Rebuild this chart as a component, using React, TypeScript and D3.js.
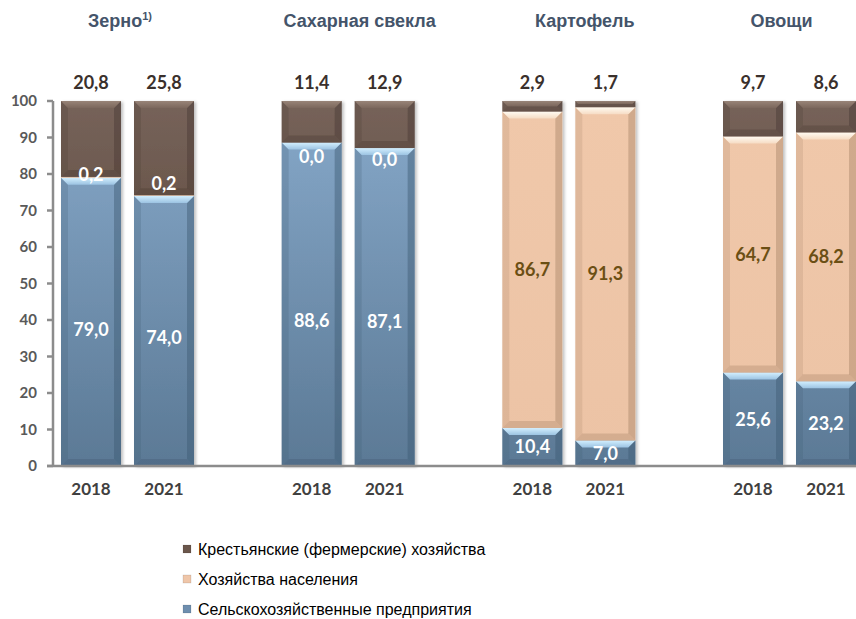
import React from "react";
import * as d3 from "d3";

const categories = ["Зерно", "Сахарная свекла", "Картофель", "Овощи"];
const years = ["2018", "2021"];
// Крестьянские (фермерские) хозяйства
const farms = [20.8, 25.8, 11.4, 12.9, 2.9, 1.7, 9.7, 8.6];
// Хозяйства населения
const households = [0.2, 0.2, 0.0, 0.0, 86.7, 91.3, 64.7, 68.2];
// Сельскохозяйственные предприятия
const enterprises = [79.0, 74.0, 88.6, 87.1, 10.4, 7.0, 25.6, 23.2];
const yTicks = [0, 10, 20, 30, 40, 50, 60, 70, 80, 90, 100];
const legendLabels = [
  "Крестьянские (фермерские) хозяйства",
  "Хозяйства населения",
  "Сельскохозяйственные предприятия",
];

// presentation nudges for labels (px)
const entLabelDy = [8, 7, 16, 15, 0, 0, 0, 0];
const hhLabelDy = [-3, -12, 14, 12, 0, 0, 0, 0];
const titleDx = [-7.5, 11.5, 16, -8];

const W = 856;
const H = 619;

const keys = ["ent", "hh", "farm"] as const;

const rows = categories.flatMap((c, ci) =>
  years.map((yr, yi) => {
    const i = ci * 2 + yi;
    return { cat: c, year: yr, i, ent: enterprises[i], hh: households[i], farm: farms[i] };
  })
);

const segStyle: Record<string, { grad: string; top: string; side: string }> = {
  ent: { grad: "url(#gBlue)", top: "url(#tBlue)", side: "#3e5a74" },
  hh: { grad: "url(#gPeach)", top: "url(#tPeach)", side: "#a98468" },
  farm: { grad: "url(#gBrown)", top: "url(#tBrown)", side: "#4a3a32" },
};

export default function App() {
  const y = d3.scaleLinear().domain([0, 100]).range([466, 101]);
  const xg = d3.scalePoint<string>().domain(categories).range([127.5, 789.5]);
  const xs = d3.scaleBand<string>().domain(years).range([-66.5, 66.5]).paddingInner(13 / 73).paddingOuter(0);
  const bw = xs.bandwidth();
  const stack = d3.stack<any>().keys(keys as any);
  const series = stack(rows);

  const labelFont = "Lato, 'Open Sans', sans-serif";

  const bevel = (key: string, x: number, y0: number, y1: number, id: string) => {
    const h = y1 - y0;
    if (h <= 0.5) return null;
    const st = segStyle[key];
    const b = Math.min(7, h / 2);
    const w = bw;
    return (
      <g key={id}>
        <rect x={x} y={y0} width={w} height={h} fill={st.grad} />
        <polygon
          points={`${x},${y1} ${x + b},${y1 - b} ${x + w - b},${y1 - b} ${x + w},${y1}`}
          fill={st.side}
          opacity={0.35}
        />
        <polygon
          points={`${x},${y0} ${x + b},${y0 + b} ${x + b},${y1 - b} ${x},${y1}`}
          fill={st.side}
          opacity={0.22}
        />
        <polygon
          points={`${x + w},${y0} ${x + w - b},${y0 + b} ${x + w - b},${y1 - b} ${x + w},${y1}`}
          fill={st.side}
          opacity={0.45}
        />
        <polygon
          points={`${x},${y0} ${x + w},${y0} ${x + w - b},${y0 + b} ${x + b},${y0 + b}`}
          fill={st.top}
        />
      </g>
    );
  };

  return (
    <svg
      width={W}
      height={H}
      style={{ position: "absolute", left: 0, top: 0, background: "#fff" }}
      xmlns="http://www.w3.org/2000/svg"
    >
      <defs>
        <linearGradient id="gBlue" gradientUnits="userSpaceOnUse" x1="0" y1={y(100)} x2="0" y2={y(0)}>
          <stop offset="0" stopColor="#87a9ca" />
          <stop offset="1" stopColor="#5b7995" />
        </linearGradient>
        <linearGradient id="gPeach" gradientUnits="userSpaceOnUse" x1="0" y1={y(100)} x2="0" y2={y(0)}>
          <stop offset="0" stopColor="#f0c8aa" />
          <stop offset="1" stopColor="#ecc3a5" />
        </linearGradient>
        <linearGradient id="gBrown" gradientUnits="userSpaceOnUse" x1="0" y1={y(100)} x2="0" y2={y(70)}>
          <stop offset="0" stopColor="#76635a" />
          <stop offset="1" stopColor="#6a564b" />
        </linearGradient>
        <linearGradient id="tBlue" x1="0" y1="0" x2="0" y2="1">
          <stop offset="0" stopColor="#d2efff" />
          <stop offset="1" stopColor="#9cc3e2" />
        </linearGradient>
        <linearGradient id="tPeach" x1="0" y1="0" x2="0" y2="1">
          <stop offset="0" stopColor="#fffbf2" />
          <stop offset="1" stopColor="#f6dcc4" />
        </linearGradient>
        <linearGradient id="tBrown" x1="0" y1="0" x2="0" y2="1">
          <stop offset="0" stopColor="#988478" />
          <stop offset="1" stopColor="#7b675c" />
        </linearGradient>
        <filter id="shadow" x="-20%" y="-5%" width="140%" height="110%">
          <feDropShadow dx="2" dy="1" stdDeviation="1.5" floodColor="#000" floodOpacity="0.25" />
        </filter>
      </defs>

      {/* titles */}
      {categories.map((c, ci) => (
        <text
          key={c}
          x={(xg(c) as number) + titleDx[ci]}
          y={27}
          textAnchor="middle"
          fontFamily="'Liberation Sans', Arial, sans-serif"
          fontWeight="bold"
          fontSize={18}
          fill="#44546a"
        >
          {c}
          {ci === 0 && (
            <tspan dy={-7} fontSize={11}>
              1)
            </tspan>
          )}
        </text>
      ))}

      {/* bars */}
      {rows.map((r, ri) => {
        const x = (xg(r.cat) as number) + (xs(r.year) as number);
        return (
          <g key={ri} filter="url(#shadow)">
            {series.map((s) => {
              const d = s[ri];
              return bevel(s.key, x, y(d[1]), y(d[0]), `${ri}-${s.key}`);
            })}
          </g>
        );
      })}

      {/* axis */}
      <line x1={53} x2={53} y1={y(100)} y2={y(0)} stroke="#8c8c8c" strokeWidth={2.5} />
      <line x1={47} x2={W} y1={y(0)} y2={y(0)} stroke="#8c8c8c" strokeWidth={2.5} />
      {yTicks.map((t) => (
        <g key={t}>
          <line x1={47} x2={53} y1={y(t)} y2={y(t)} stroke="#8c8c8c" strokeWidth={2.5} />
          <text
            x={37}
            y={y(t)}
            dy="0.35em"
            textAnchor="end"
            fontFamily={labelFont}
            fontWeight="bold"
            fontSize={15}
            fill="#595959"
          >
            {t}
          </text>
        </g>
      ))}

      {/* year labels */}
      {rows.map((r, ri) => (
        <text
          key={"yr" + ri}
          x={(xg(r.cat) as number) + (xs(r.year) as number) + bw / 2}
          y={495}
          textAnchor="middle"
          fontFamily={labelFont}
          fontWeight="bold"
          fontSize={17}
          fill="#404040"
        >
          {r.year}
        </text>
      ))}

      {/* value labels */}
      {rows.map((r, ri) => {
        const cx = (xg(r.cat) as number) + (xs(r.year) as number) + bw / 2;
        const fmt = (v: number) => v.toFixed(1).replace(".", ",");
        const ent = series[0][ri];
        const hh = series[1][ri];
        const small = r.hh < 1;
        return (
          <g key={"lb" + ri} fontFamily={labelFont} fontWeight="bold" fontSize={18} textAnchor="middle">
            <text x={cx} y={y(100) - 12} fill="#3a302c">
              {fmt(r.farm)}
            </text>
            <text x={cx} y={(y(ent[0]) + y(ent[1])) / 2 + entLabelDy[ri]} dy="0.35em" fill="#ffffff">
              {fmt(r.ent)}
            </text>
            <text
              x={cx}
              y={(y(hh[0]) + y(hh[1])) / 2 + hhLabelDy[ri]}
              dy="0.35em"
              fill={small ? "#ffffff" : "#6b4f14"}
            >
              {fmt(r.hh)}
            </text>
          </g>
        );
      })}

      {/* legend */}
      {legendLabels.map((l, li) => {
        const cy = 549 + li * 30;
        const fills = ["#6a564b", "#efc6a9", "#6e8eae"];
        return (
          <g key={l}>
            <rect x={183} y={cy - 4} width={8} height={8} fill={fills[li]} stroke="#00000033" strokeWidth={0.5} />
            <text
              x={198}
              y={cy}
              dy="0.35em"
              fontFamily="'Liberation Sans', Arial, sans-serif"
              fontSize={16}
              fill="#000"
            >
              {l}
            </text>
          </g>
        );
      })}
    </svg>
  );
}
